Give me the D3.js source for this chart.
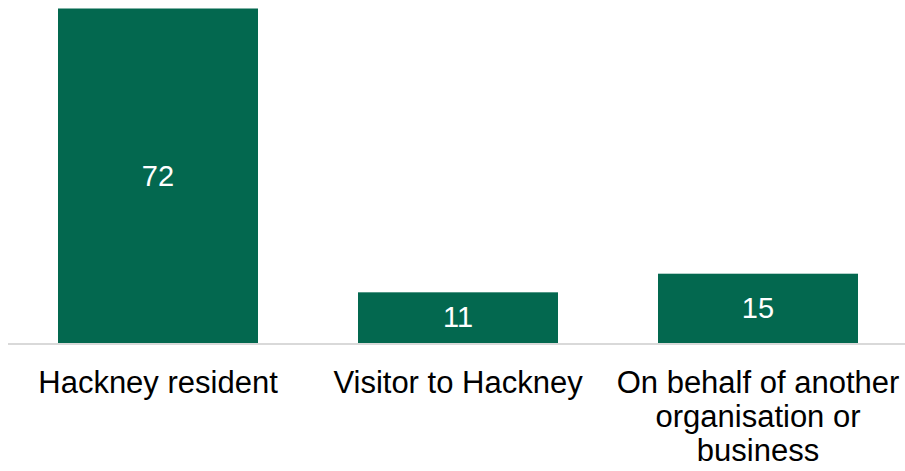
<!DOCTYPE html>
<html>
<head>
<meta charset="utf-8">
<script src="https://cdn.jsdelivr.net/npm/d3@7"></script>
<style>
  html, body { margin: 0; padding: 0; background: #ffffff; }
  svg { display: block; }
  text { font-family: "Liberation Sans", Arial, sans-serif; }
</style>
</head>
<body>
<svg id="chart" width="905" height="471"></svg>
<script>
// Respondent type, share of responses (%)
const categories = ["Hackney resident", "Visitor to Hackney", "On behalf of another organisation or business"];
const values = [72, 11, 15];

const svg = d3.select("#chart");

const x = d3.scaleBand()
  .domain(categories)
  .range([8, 908])
  .paddingInner(1 / 3)
  .paddingOuter(1 / 6);

const y = d3.scaleLinear()
  .domain([0, 72])
  .range([343.5, 8.5]);

const barColor = "#03684f";

// bars
svg.append("g")
  .selectAll("rect")
  .data(categories)
  .join("rect")
  .attr("x", d => x(d))
  .attr("width", x.bandwidth())
  .attr("y", (d, i) => y(values[i]))
  .attr("height", (d, i) => y(0) - y(values[i]))
  .attr("fill", barColor);

// value labels centred in each bar
svg.append("g")
  .selectAll("text")
  .data(categories)
  .join("text")
  .attr("x", d => x(d) + x.bandwidth() / 2)
  .attr("y", (d, i) => (y(values[i]) + y(0)) / 2)
  .attr("dy", "0.33em")
  .attr("text-anchor", "middle")
  .attr("fill", "#ffffff")
  .attr("font-size", 29)
  .text((d, i) => values[i]);

// category axis
const axis = svg.append("g")
  .attr("transform", `translate(0,${y(0)})`)
  .call(d3.axisBottom(x).tickSize(0).tickPadding(0));

axis.select(".domain")
  .attr("d", "M8,0.5H905")
  .attr("stroke", "#d9d9d9")
  .attr("stroke-width", 2);

// wrapped category labels
axis.selectAll(".tick text")
  .attr("font-size", 31)
  .attr("fill", "#000000")
  .attr("font-family", "'Liberation Sans', Arial, sans-serif")
  .attr("y", null)
  .attr("dy", null)
  .text(null)
  .each(function (d) {
    const t = d3.select(this);
    const maxW = x.step();
    const words = d.split(" ");
    const lineH = 34;
    const firstY = 49.5;
    let line = [];
    let lineNo = 0;
    let tspan = t.append("tspan").attr("x", 0).attr("y", firstY);
    for (const w of words) {
      line.push(w);
      tspan.text(line.join(" "));
      if (tspan.node().getComputedTextLength() > maxW && line.length > 1) {
        line.pop();
        tspan.text(line.join(" "));
        line = [w];
        lineNo++;
        tspan = t.append("tspan").attr("x", 0).attr("y", firstY + lineNo * lineH).text(w);
      }
    }
  });
</script>
</body>
</html>
